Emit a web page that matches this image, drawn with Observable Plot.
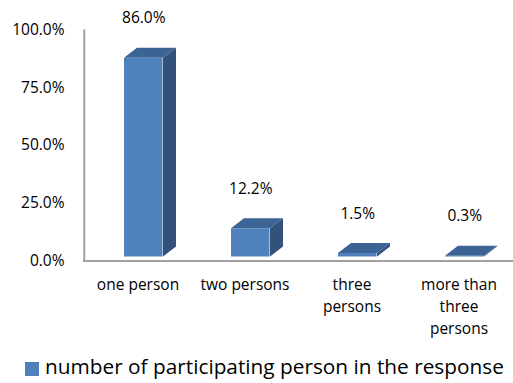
<!DOCTYPE html>
<html>
<head>
<meta charset="utf-8">
<script src="https://cdn.jsdelivr.net/npm/d3@7"></script>
<script src="https://cdn.jsdelivr.net/npm/@observablehq/plot@0.6"></script>
<style>
  html, body { margin: 0; padding: 0; background: #fff; }
  #chart { position: relative; width: 513px; height: 383px; overflow: hidden; font-family: "Open Sans", sans-serif; }
  #chart svg { display: block; }
  .legend { position: absolute; left: 25px; top: 352px; display: flex; align-items: flex-start; font-size: 20.8px; line-height: 28px; color: #000; white-space: nowrap; }
  .legend .swatch { width: 14px; height: 14px; background: #4f81bd; margin: 10px 6px 0 0; }
</style>
</head>
<body>
<div id="chart"></div>
<script>
// Share of responses by number of participating persons
const categories = ["one person", "two persons", "three\npersons", "more than\nthree\npersons"];
const shares = [86.0, 12.2, 1.5, 0.3];
const yTicks = [0, 25, 50, 75, 100];
const seriesName = "number of participating person in the response";

const rows = categories.map((category, i) => ({category, share: shares[i]}));

// Box styling: front face, top face, right side face
const FRONT = "#4f81bd", TOP = "#3b6394", SIDE = "#32527b", AXIS = "#a0a0a0";
const W = 513, H = 343, left = 83;
const band = (W - left) / categories.length;
const insetL = 40, barW = 39;           // front face inside each band
const depthX = 13, depthY = -10, lift = -4; // box depth and floor offset
const pct = d => d.toFixed(1) + "%";

// Top and side faces of each box, placed with the chart's own scales
function boxFaces(index, scales) {
  const {x, y} = scales;
  const g = d3.create("svg:g");
  for (const d of rows) {
    const x0 = x(d.category) + insetL, x1 = x0 + barW;
    const yb = y(0) + lift, yt = y(d.share) + lift;
    g.append("path")
      .attr("fill", SIDE)
      .attr("d", `M${x1},${yb}L${x1 + depthX},${yb + depthY}L${x1 + depthX},${yt + depthY}L${x1},${yt}Z`);
    g.append("path")
      .attr("fill", TOP)
      .attr("d", `M${x0},${yt}L${x0 + depthX},${yt + depthY}L${x1 + depthX},${yt + depthY}L${x1},${yt}Z`);
  }
  return g.node();
}

const plot = Plot.plot({
  width: W,
  height: H,
  marginLeft: left,
  marginRight: 0,
  marginTop: 29.5,
  marginBottom: 82.5,
  style: {fontFamily: "Open Sans, sans-serif", fontSize: "15px", color: "#000", background: "#fff", overflow: "visible"},
  x: {domain: categories, padding: 0},
  y: {domain: [0, 100]},
  marks: [
    Plot.ruleX([categories[0]], {dx: -band / 2, stroke: AXIS, strokeWidth: 2}),
    Plot.ruleY([0], {stroke: AXIS, strokeWidth: 2}),
    Plot.barY(rows, {x: "category", y: "share", fill: FRONT, insetLeft: insetL, insetRight: band - insetL - barW, dy: lift}),
    boxFaces,
    Plot.text(rows, {x: "category", y: "share", text: d => pct(d.share), dx: insetL + barW / 2 - band / 2, dy: lift - 40, fontSize: 15.5, fill: "#000"}),
    Plot.axisY(yTicks, {tickSize: 0, tickPadding: 19, tickFormat: pct, label: null, fontSize: 15.5}),
    Plot.axisX({tickSize: 0, tickPadding: 13, label: null, fontSize: 15.5, lineHeight: 1.42})
  ]
});

const chart = document.getElementById("chart");
chart.appendChild(plot);
const legend = document.createElement("div");
legend.className = "legend";
legend.innerHTML = `<span class="swatch"></span><span></span>`;
legend.lastChild.textContent = seriesName;
chart.appendChild(legend);
</script>
</body>
</html>
